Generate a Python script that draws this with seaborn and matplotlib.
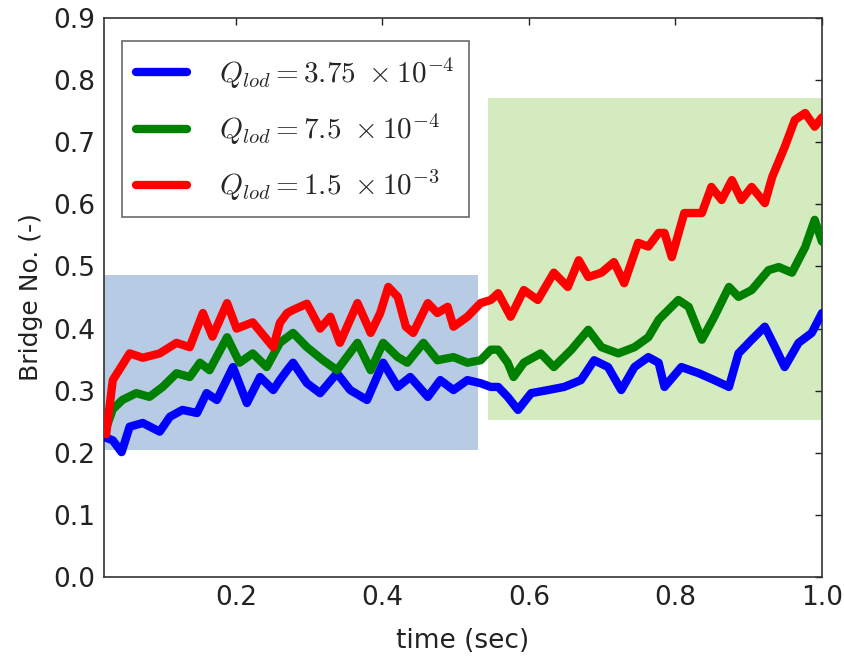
import matplotlib
matplotlib.use("Agg")
import matplotlib.pyplot as plt
from matplotlib.patches import Rectangle
import seaborn as sns
import pandas as pd

# ---- data ----
red_t = [0.020, 0.023, 0.032, 0.055, 0.073, 0.096, 0.119, 0.137, 0.155, 0.168, 0.188, 0.201,
         0.223, 0.251, 0.260, 0.270, 0.278, 0.297, 0.315, 0.329, 0.342, 0.366, 0.384, 0.397,
         0.408, 0.421, 0.432, 0.442, 0.462, 0.475, 0.489, 0.497, 0.516, 0.534, 0.548, 0.558,
         0.575, 0.593, 0.612, 0.634, 0.653, 0.668, 0.681, 0.699, 0.716, 0.730, 0.749, 0.763,
         0.777, 0.785, 0.795, 0.812, 0.836, 0.849, 0.863, 0.877, 0.890, 0.904, 0.922, 0.932,
         0.949, 0.963, 0.977, 0.990, 1.000]
red_v = [0.237, 0.230, 0.317, 0.360, 0.353, 0.360, 0.377, 0.370, 0.425, 0.387, 0.441, 0.400,
         0.410, 0.370, 0.409, 0.425, 0.430, 0.440, 0.400, 0.419, 0.377, 0.441, 0.393, 0.425,
         0.467, 0.451, 0.403, 0.393, 0.441, 0.425, 0.435, 0.403, 0.419, 0.441, 0.446, 0.457,
         0.419, 0.462, 0.446, 0.490, 0.467, 0.510, 0.483, 0.490, 0.507, 0.473, 0.538, 0.532,
         0.554, 0.554, 0.515, 0.586, 0.586, 0.628, 0.607, 0.639, 0.607, 0.628, 0.602, 0.644,
         0.692, 0.736, 0.747, 0.725, 0.740]

green_t = [0.020, 0.023, 0.032, 0.045, 0.064, 0.082, 0.100, 0.119, 0.137, 0.151, 0.164, 0.188,
           0.205, 0.223, 0.242, 0.260, 0.278, 0.297, 0.319, 0.338, 0.366, 0.384, 0.401, 0.421,
           0.434, 0.456, 0.475, 0.497, 0.516, 0.534, 0.548, 0.558, 0.571, 0.579, 0.593, 0.616,
           0.634, 0.658, 0.681, 0.699, 0.722, 0.744, 0.763, 0.777, 0.781, 0.804, 0.818, 0.836,
           0.853, 0.873, 0.886, 0.904, 0.927, 0.941, 0.959, 0.977, 0.990, 1.000]
green_v = [0.235, 0.240, 0.270, 0.285, 0.296, 0.290, 0.306, 0.328, 0.322, 0.345, 0.333, 0.386,
           0.345, 0.360, 0.338, 0.377, 0.393, 0.370, 0.349, 0.333, 0.377, 0.333, 0.377, 0.354,
           0.345, 0.377, 0.349, 0.354, 0.345, 0.349, 0.366, 0.366, 0.345, 0.322, 0.345, 0.360,
           0.338, 0.366, 0.398, 0.370, 0.360, 0.370, 0.386, 0.414, 0.419, 0.446, 0.435, 0.382,
           0.419, 0.467, 0.451, 0.462, 0.494, 0.499, 0.490, 0.531, 0.575, 0.540]

blue_t = [0.020, 0.021, 0.032, 0.044, 0.055, 0.073, 0.096, 0.110, 0.127, 0.147, 0.160, 0.174,
          0.196, 0.215, 0.233, 0.251, 0.260, 0.270, 0.278, 0.297, 0.315, 0.338, 0.356, 0.379,
          0.401, 0.421, 0.438, 0.462, 0.479, 0.497, 0.516, 0.534, 0.548, 0.558, 0.571, 0.585,
          0.603, 0.626, 0.648, 0.671, 0.689, 0.708, 0.726, 0.744, 0.763, 0.777, 0.785, 0.808,
          0.832, 0.853, 0.873, 0.886, 0.904, 0.922, 0.936, 0.949, 0.968, 0.986, 1.000]
blue_v = [0.240, 0.225, 0.220, 0.201, 0.242, 0.248, 0.234, 0.258, 0.269, 0.264, 0.296, 0.285,
          0.338, 0.280, 0.322, 0.301, 0.317, 0.333, 0.345, 0.312, 0.296, 0.328, 0.301, 0.285,
          0.345, 0.306, 0.322, 0.290, 0.317, 0.301, 0.317, 0.312, 0.306, 0.306, 0.290, 0.269,
          0.296, 0.301, 0.306, 0.317, 0.349, 0.338, 0.301, 0.338, 0.354, 0.345, 0.306, 0.338,
          0.328, 0.317, 0.306, 0.360, 0.382, 0.403, 0.370, 0.338, 0.377, 0.393, 0.425]

labels = [r"$Q_{lod}=3.75\ \times10^{-4}$",
          r"$Q_{lod}=7.5\ \times10^{-4}$",
          r"$Q_{lod}=1.5\ \times10^{-3}$"]
line_colors = ["#0000ff", "#008000", "#ff0000"]

# shaded regions: (x0, x1, y0, y1)
region_early = (0.020, 0.530, 0.205, 0.486)
region_late = (0.544, 1.000, 0.253, 0.771)
region_colors = ["#b8cbe4", "#d4eabf"]

x_ticks = [0.2, 0.4, 0.6, 0.8, 1.0]
y_ticks = [0.0, 0.1, 0.2, 0.3, 0.4, 0.5, 0.6, 0.7, 0.8, 0.9]

# ---- build table ----
frames = []
for t, v, lab in [(blue_t, blue_v, labels[0]), (green_t, green_v, labels[1]), (red_t, red_v, labels[2])]:
    frames.append(pd.DataFrame({"time": t, "bridge": v, "series": lab}))
df = pd.concat(frames, ignore_index=True)

sns.set_style("white")
plt.rcParams["font.family"] = ["DejaVu Sans"]
plt.rcParams["mathtext.fontset"] = "cm"

fig = plt.figure(figsize=(8.44, 6.62), dpi=100)
ax = fig.add_axes([104 / 844, 1 - 577 / 662, 718 / 844, 559 / 662])

for reg, col in zip([region_early, region_late], region_colors):
    ax.add_patch(Rectangle((reg[0], reg[2]), reg[1] - reg[0], reg[3] - reg[2],
                           facecolor=col, edgecolor="none", zorder=0))

sns.lineplot(data=df, x="time", y="bridge", hue="series", palette=line_colors,
             hue_order=labels, sort=False, estimator=None, linewidth=6, ax=ax, zorder=3)

ax.set_xlim(0.02, 1.0)
ax.set_ylim(0.0, 0.9)
ax.set_xticks(x_ticks)
ax.set_xticklabels([f"{v:.1f}" for v in x_ticks])
ax.set_yticks(y_ticks)
ax.set_yticklabels([f"{v:.1f}" for v in y_ticks])
ax.tick_params(direction="in", length=5, width=1, top=True, right=True,
               labelsize=19, colors="#222222", pad=6)
for s in ax.spines.values():
    s.set_visible(True)
    s.set_color("#333333")
    s.set_linewidth(1.2)

ax.set_xlabel("time (sec)", fontsize=19, labelpad=12, color="#222222")
ax.set_ylabel("Bridge No. (-)", fontsize=18, labelpad=8, color="#222222")

leg = ax.legend(loc="upper left", bbox_to_anchor=(0.025, 0.958), borderaxespad=0,
                fontsize=21, frameon=True, fancybox=False, edgecolor="#444444",
                handlelength=1.75, handletextpad=1.1, labelspacing=0.72,
                borderpad=0.48)
leg.get_frame().set_linewidth(1.2)
for h in leg.get_lines():
    h.set_linewidth(6)

fig.savefig("out.png", dpi=100, facecolor="white")
